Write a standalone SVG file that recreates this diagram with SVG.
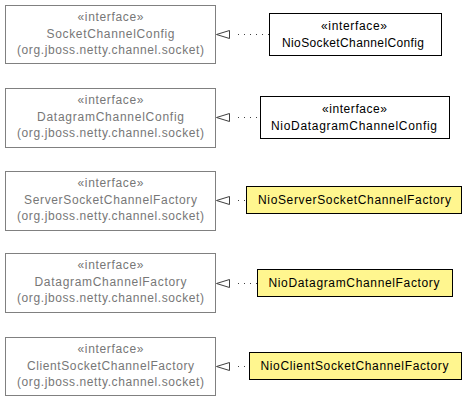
<svg xmlns="http://www.w3.org/2000/svg" width="469" height="400" viewBox="0 0 469 400">
<style>
text{font-family:"Liberation Sans",Arial,sans-serif;font-size:12px;text-anchor:middle}
.iface rect{fill:#fff;stroke:#808080;stroke-width:1}
.iface text{fill:#777}
.impl rect{fill:#fff;stroke:#000;stroke-width:1}
.impl text{fill:#000}
.cls rect{fill:#fff68f;stroke:#000;stroke-width:1}
.cls text{fill:#000}
.edge line{stroke:#404040;stroke-width:1;stroke-dasharray:1,5}
.edge path{fill:#fff;stroke:#404040;stroke-width:1}
</style>
<rect width="469" height="400" fill="#fff"/>
<g id="n_SocketChannelConfig" class="iface">
<rect x="5.5" y="5.5" width="210" height="58"/>
<text x="110.5" y="21" textLength="66" lengthAdjust="spacing">«interface»</text>
<text x="110.5" y="38" textLength="128" lengthAdjust="spacing">SocketChannelConfig</text>
<text x="110.5" y="54" textLength="187" lengthAdjust="spacing">(org.jboss.netty.channel.socket)</text>
</g>
<g id="n_DatagramChannelConfig" class="iface">
<rect x="5.5" y="88.5" width="210" height="59"/>
<text x="110.5" y="104" textLength="66" lengthAdjust="spacing">«interface»</text>
<text x="110.5" y="121" textLength="147" lengthAdjust="spacing">DatagramChannelConfig</text>
<text x="110.5" y="137" textLength="187" lengthAdjust="spacing">(org.jboss.netty.channel.socket)</text>
</g>
<g id="n_ServerSocketChannelFactory" class="iface">
<rect x="5.5" y="171.5" width="210" height="59"/>
<text x="110.5" y="187" textLength="66" lengthAdjust="spacing">«interface»</text>
<text x="110.5" y="204" textLength="173" lengthAdjust="spacing">ServerSocketChannelFactory</text>
<text x="110.5" y="220" textLength="187" lengthAdjust="spacing">(org.jboss.netty.channel.socket)</text>
</g>
<g id="n_DatagramChannelFactory" class="iface">
<rect x="5.5" y="253.5" width="210" height="59"/>
<text x="110.5" y="269" textLength="66" lengthAdjust="spacing">«interface»</text>
<text x="110.5" y="286" textLength="152" lengthAdjust="spacing">DatagramChannelFactory</text>
<text x="110.5" y="302" textLength="187" lengthAdjust="spacing">(org.jboss.netty.channel.socket)</text>
</g>
<g id="n_ClientSocketChannelFactory" class="iface">
<rect x="5.5" y="337.5" width="210" height="58"/>
<text x="110.5" y="353" textLength="66" lengthAdjust="spacing">«interface»</text>
<text x="110.5" y="370" textLength="167" lengthAdjust="spacing">ClientSocketChannelFactory</text>
<text x="110.5" y="386" textLength="187" lengthAdjust="spacing">(org.jboss.netty.channel.socket)</text>
</g>
<g id="n_NioSocketChannelConfig" class="impl">
<rect x="269.5" y="13.5" width="172" height="42"/>
<text x="354" y="30" textLength="66" lengthAdjust="spacing">«interface»</text>
<text x="353" y="47" textLength="142" lengthAdjust="spacing">NioSocketChannelConfig</text>
</g>
<g id="n_NioDatagramChannelConfig" class="impl">
<rect x="260.5" y="96.5" width="189" height="42"/>
<text x="354.5" y="113" textLength="65" lengthAdjust="spacing">«interface»</text>
<text x="354" y="130" textLength="166" lengthAdjust="spacing">NioDatagramChannelConfig</text>
</g>
<g id="n_NioServerSocketChannelFactory" class="cls">
<rect x="246.5" y="186.5" width="215" height="27"/>
<text x="354.5" y="204" textLength="193" lengthAdjust="spacing">NioServerSocketChannelFactory</text>
</g>
<g id="n_NioDatagramChannelFactory" class="cls">
<rect x="257.5" y="269.5" width="195" height="27"/>
<text x="354" y="287" textLength="171" lengthAdjust="spacing">NioDatagramChannelFactory</text>
</g>
<g id="n_NioClientSocketChannelFactory" class="cls">
<rect x="249.5" y="352.5" width="212" height="27"/>
<text x="354.5" y="370" textLength="188" lengthAdjust="spacing">NioClientSocketChannelFactory</text>
</g>
<g id="connectors" class="edge">
<line x1="238" y1="34.5" x2="269" y2="34.5"/>
<path d="M216.5,34.5 L229.5,30.5 L229.5,38.5 Z"/>
<line x1="238" y1="117.5" x2="260" y2="117.5"/>
<path d="M216.5,117.5 L229.5,113.5 L229.5,121.5 Z"/>
<line x1="238" y1="200.5" x2="246" y2="200.5"/>
<path d="M216.5,200.5 L229.5,196.5 L229.5,204.5 Z"/>
<line x1="238" y1="283.5" x2="257" y2="283.5"/>
<path d="M216.5,283.5 L229.5,279.5 L229.5,287.5 Z"/>
<line x1="238" y1="366.5" x2="249" y2="366.5"/>
<path d="M216.5,366.5 L229.5,362.5 L229.5,370.5 Z"/>
</g>
</svg>
